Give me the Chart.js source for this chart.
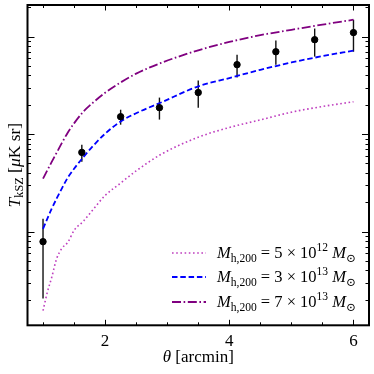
<!DOCTYPE html>
<html>
<head>
<meta charset="utf-8">
<script src="https://cdn.jsdelivr.net/npm/chart.js@4.4.1/dist/chart.umd.min.js"></script>
<style>
  html, body { margin: 0; padding: 0; background: #fff; }
  #wrap { width: 374px; height: 374px; }
</style>
</head>
<body>
<div id="wrap"><canvas id="kszChart"></canvas></div>
<script>
// measured stacked kSZ profile
const theta = [1, 1.625, 2.25, 2.875, 3.5, 4.125, 4.75, 5.375, 6];
const tksz = [7.9e-9, 6.5e-8, 1.51e-7, 1.87e-7, 2.67e-7, 5.16e-7, 7.0e-7, 9.3e-7, 1.1e-6];
const tkszLow = [2.06e-9, 5.2e-8, 1.25e-7, 1.41e-7, 1.87e-7, 3.8e-7, 5.16e-7, 6.24e-7, 7.0e-7];
const tkszHigh = [1.36e-8, 7.8e-8, 1.78e-7, 2.37e-7, 3.54e-7, 6.53e-7, 9.1e-7, 1.21e-6, 1.49e-6];

// model curves
const modelTheta = [1, 1.07, 1.14, 1.22, 1.3, 1.4, 1.5, 1.65, 1.8, 2.0, 2.25, 2.5, 2.9, 3.5, 4.0, 4.5, 5.0, 5.5, 6.0];
const model5e12 = [1.55e-9, 2.4e-9, 3.4e-9, 5.3e-9, 6.7e-9, 7.8e-9, 1.03e-8, 1.28e-8, 1.67e-8, 2.35e-8, 3.15e-8, 4.2e-8, 6.2e-8, 9.3e-8, 1.17e-7, 1.4e-7, 1.68e-7, 1.92e-7, 2.15e-7];
const model3e13 = [1.07e-8, 1.36e-8, 1.72e-8, 2.19e-8, 2.75e-8, 3.59e-8, 4.42e-8, 5.82e-8, 7.5e-8, 1.01e-7, 1.35e-7, 1.64e-7, 2.11e-7, 3.09e-7, 3.76e-7, 4.57e-7, 5.43e-7, 6.31e-7, 7.18e-7];
const model7e13 = [3.5e-8, 4.27e-8, 5.19e-8, 6.46e-8, 8.04e-8, 1.04e-7, 1.29e-7, 1.7e-7, 2.09e-7, 2.66e-7, 3.39e-7, 4.17e-7, 5.37e-7, 7.24e-7, 8.81e-7, 1.035e-6, 1.175e-6, 1.327e-6, 1.49e-6];

const legendMass = ['5', '3', '7'];
const legendExp = ['12', '13', '13'];
const xTickLabels = ['2', '4', '6'];

const SERIF = '"Liberation Serif", "DejaVu Serif", serif';

function pts(xs, ys) {
  return xs.map((x, i) => ({ x: x, y: ys[i] }));
}

// draw a run of text pieces: {t, it, sub, sup}
function richWidth(ctx, parts, size) {
  let w = 0;
  parts.forEach(p => {
    const s = (p.sub || p.sup) ? size * 0.7 : size;
    ctx.font = (p.it ? 'italic ' : '') + s + 'px ' + SERIF;
    w += ctx.measureText(p.t).width;
  });
  return w;
}
function drawRich(ctx, parts, x, y, size) {
  ctx.textBaseline = 'alphabetic';
  ctx.textAlign = 'left';
  parts.forEach(p => {
    const s = (p.sub || p.sup) ? size * 0.7 : size;
    let dy = 0;
    if (p.sub) dy = size * 0.22;
    if (p.sup) dy = -size * 0.42;
    ctx.font = (p.it ? 'italic ' : '') + s + 'px ' + SERIF;
    ctx.fillText(p.t, x, y + dy);
    x += ctx.measureText(p.t).width;
  });
}

const lineStyles = [
  { color: '#bf3fbf', dash: [1.6, 2.6], width: 1.6 },
  { color: '#0000ff', dash: [5.5, 2.8], width: 1.8 },
  { color: '#800080', dash: [9, 2.6, 1.6, 2.6], width: 1.8 }
];

const mplAxes = {
  id: 'mplAxes',
  beforeDatasetsDraw(chart) {
    const ctx = chart.ctx;
    const xs = chart.scales.x, ys = chart.scales.y;
    ctx.save();
    ctx.strokeStyle = '#111';
    ctx.lineWidth = 1.4;
    theta.forEach((t, i) => {
      const px = xs.getPixelForValue(t);
      ctx.beginPath();
      ctx.moveTo(px, ys.getPixelForValue(tkszLow[i]));
      ctx.lineTo(px, ys.getPixelForValue(tkszHigh[i]));
      ctx.stroke();
    });
    ctx.restore();
  },
  afterDraw(chart) {
    const ctx = chart.ctx;
    const a = chart.chartArea;
    const xs = chart.scales.x, ys = chart.scales.y;
    ctx.save();

    // ticks, inward on all sides
    ctx.strokeStyle = '#000';
    ctx.lineWidth = 1;
    function tickX(v, len) {
      const px = Math.round(xs.getPixelForValue(v)) + 0.5;
      ctx.beginPath();
      ctx.moveTo(px, a.bottom); ctx.lineTo(px, a.bottom - len);
      ctx.moveTo(px, a.top); ctx.lineTo(px, a.top + len);
      ctx.stroke();
    }
    function tickY(v, len) {
      const py = Math.round(ys.getPixelForValue(v)) + 0.5;
      ctx.beginPath();
      ctx.moveTo(a.left, py); ctx.lineTo(a.left + len, py);
      ctx.moveTo(a.right, py); ctx.lineTo(a.right - len, py);
      ctx.stroke();
    }
    for (let v = 1; v <= 6; v += 0.5) {
      const major = xTickLabels.indexOf(String(v)) >= 0;
      tickX(v, major ? 5.5 : 3);
    }
    for (let e = -10; e <= -5; e++) {
      for (let m = 1; m <= 9; m++) {
        const v = m * Math.pow(10, e);
        if (v < ys.min || v > ys.max) continue;
        tickY(v, m === 1 ? 7 : 3.5);
      }
    }

    // frame
    ctx.lineWidth = 2;
    ctx.strokeRect(a.left, a.top, a.right - a.left, a.bottom - a.top);

    // x tick labels
    ctx.fillStyle = '#000';
    ctx.font = '17px ' + SERIF;
    ctx.textAlign = 'center';
    ctx.textBaseline = 'alphabetic';
    xTickLabels.forEach(l => {
      ctx.fillText(l, xs.getPixelForValue(Number(l)), 346);
    });

    // x axis title
    const xt = [{ t: 'θ', it: true }, { t: ' [arcmin]' }];
    const xw = richWidth(ctx, xt, 17);
    drawRich(ctx, xt, (a.left + a.right) / 2 - xw / 2, 362, 17);

    // y axis title
    const yt = [{ t: 'T', it: true }, { t: 'kSZ', sub: true }, { t: ' [' }, { t: 'μ', it: true }, { t: 'K sr]' }];
    const yw = richWidth(ctx, yt, 17.5);
    ctx.save();
    ctx.translate(19.5, (a.top + a.bottom) / 2);
    ctx.rotate(-Math.PI / 2);
    drawRich(ctx, yt, -yw / 2, 0, 17.5);
    ctx.restore();

    // legend
    const rows = [253, 277, 302];
    rows.forEach((ry, i) => {
      const st = lineStyles[i];
      ctx.save();
      ctx.strokeStyle = st.color;
      ctx.lineWidth = st.width;
      ctx.setLineDash(st.dash);
      ctx.beginPath();
      ctx.moveTo(172, ry); ctx.lineTo(206, ry);
      ctx.stroke();
      ctx.restore();
      ctx.fillStyle = '#000';
      drawRich(ctx, [
        { t: 'M', it: true }, { t: 'h,200', sub: true },
        { t: ' = ' + legendMass[i] + ' × 10' }, { t: legendExp[i], sup: true },
        { t: ' M', it: true }, { t: '⊙', sub: true }
      ], 217, ry + 5, 16.5);
    });

    ctx.restore();
  }
};

const ctx = document.getElementById('kszChart');

new Chart(ctx, {
  type: 'scatter',
  data: {
    datasets: [
      {
        label: 'data',
        data: pts(theta, tksz),
        backgroundColor: '#000',
        borderColor: '#000',
        pointRadius: 3.2,
        showLine: false,
        order: 0
      },
      {
        label: '5e12',
        data: pts(modelTheta, model5e12),
        showLine: true,
        borderColor: lineStyles[0].color,
        borderWidth: lineStyles[0].width,
        borderDash: lineStyles[0].dash,
        pointRadius: 0,
        cubicInterpolationMode: 'monotone',
        order: 1
      },
      {
        label: '3e13',
        data: pts(modelTheta, model3e13),
        showLine: true,
        borderColor: lineStyles[1].color,
        borderWidth: lineStyles[1].width,
        borderDash: lineStyles[1].dash,
        pointRadius: 0,
        cubicInterpolationMode: 'monotone',
        order: 1
      },
      {
        label: '7e13',
        data: pts(modelTheta, model7e13),
        showLine: true,
        borderColor: lineStyles[2].color,
        borderWidth: lineStyles[2].width,
        borderDash: lineStyles[2].dash,
        pointRadius: 0,
        cubicInterpolationMode: 'monotone',
        order: 1
      }
    ]
  },
  options: {
    responsive: true,
    maintainAspectRatio: false,
    animation: false,
    layout: { padding: { left: 27.5, right: 4.3, top: 5, bottom: 48.7 } },
    plugins: { legend: { display: false }, tooltip: { enabled: false } },
    scales: {
      x: { type: 'linear', min: 0.75, max: 6.25, display: false },
      y: { type: 'logarithmic', min: 1.096e-9, max: 2.11e-6, display: false }
    }
  },
  plugins: [mplAxes]
});
</script>
</body>
</html>
